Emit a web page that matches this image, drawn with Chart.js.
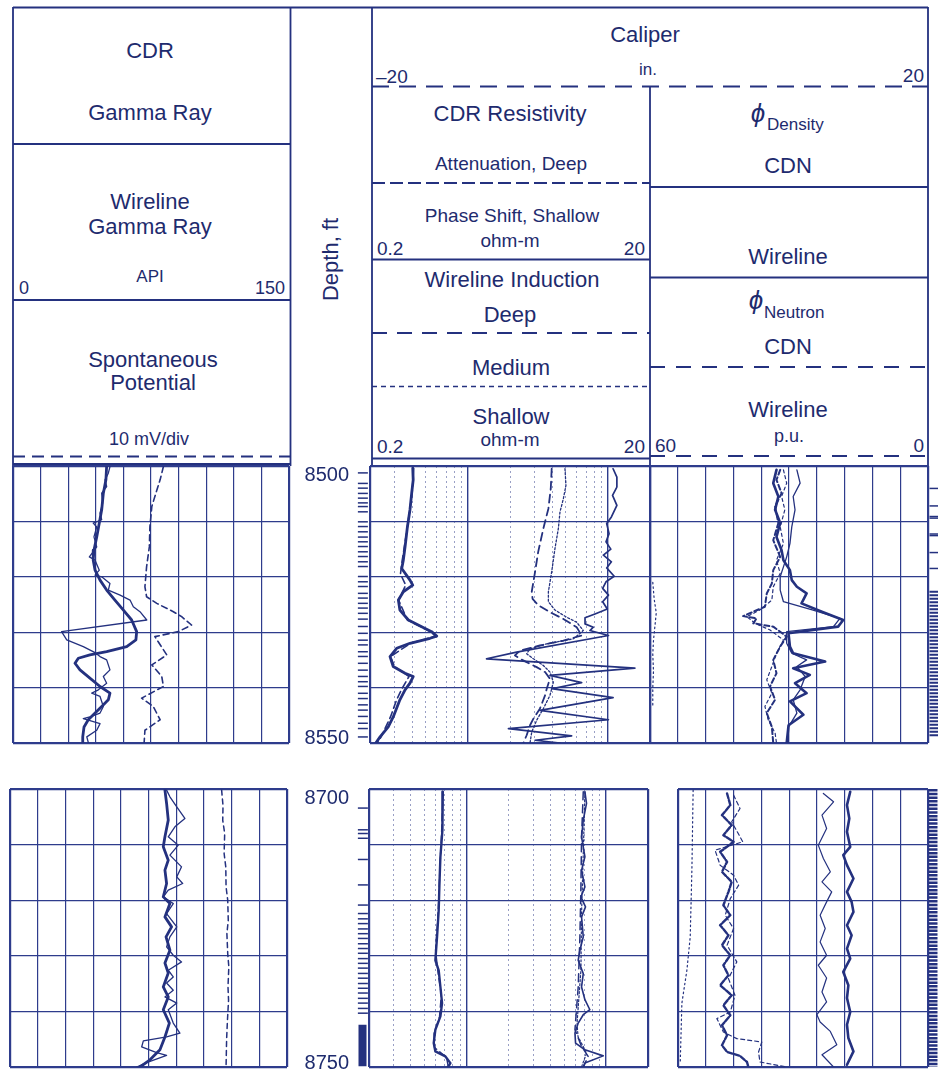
<!DOCTYPE html>
<html>
<head>
<meta charset="utf-8">
<script src="https://cdn.jsdelivr.net/npm/chart.js@4.4.1/dist/chart.umd.min.js"></script>
<style>
  html, body { margin: 0; padding: 0; background: #fff; }
  body { width: 938px; height: 1070px; position: relative; overflow: hidden; }
  #hdr { position: absolute; left: 0; top: 0; }
</style>
</head>
<body>
<svg id="hdr" width="938" height="470" xmlns="http://www.w3.org/2000/svg">
  <g stroke="#24317f" stroke-width="1.8" fill="none">
    <path d="M13 7.5H928"/>
    <path d="M13 7V466M290.5 7V466M372 7V466M928 7V466M650 86.5V466"/>
    <path d="M13 144H290.5M13 300H290.5M13 464H290.5"/>
    <path d="M13 456.5H290.5" stroke-dasharray="12 7"/>
    <path d="M372 86.5H928" stroke-dasharray="17 10"/>
    <path d="M372 183H650" stroke-dasharray="13 5"/>
    <path d="M372 259.5H650M372 458.5H650"/>
    <path d="M372 333H650" stroke-dasharray="15 10"/>
    <path d="M372 386.5H650" stroke-dasharray="5 4" stroke-width="1.3"/>
    <path d="M650 187H928M650 277.5H928"/>
    <path d="M650 367H928M650 456H928" stroke-dasharray="15 11"/>
  </g>
  <g fill="#1e2b6e" font-family="Liberation Sans, Arial, Helvetica, sans-serif" text-anchor="middle" dominant-baseline="central">
    <text x="150" y="50" font-size="22">CDR</text>
    <text x="150" y="112" font-size="22">Gamma Ray</text>
    <text x="150" y="201" font-size="22">Wireline</text>
    <text x="150" y="226" font-size="22">Gamma Ray</text>
    <text x="150" y="276" font-size="17">API</text>
    <text x="19" y="288" font-size="18" text-anchor="start">0</text>
    <text x="285" y="288" font-size="18" text-anchor="end">150</text>
    <text x="153" y="359" font-size="22">Spontaneous</text>
    <text x="153" y="382.5" font-size="22">Potential</text>
    <text x="149" y="439" font-size="18">10 mV/div</text>

    <text transform="translate(330,259.5) rotate(-90)" font-size="22">Depth, ft</text>

    <text x="645" y="34" font-size="22">Caliper</text>
    <text x="648" y="69" font-size="17">in.</text>
    <text x="376" y="76" font-size="19" text-anchor="start">–20</text>
    <text x="924" y="75" font-size="19" text-anchor="end">20</text>
    <text x="510" y="113" font-size="22">CDR Resistivity</text>
    <text x="511" y="163" font-size="19">Attenuation, Deep</text>
    <text x="512" y="215.5" font-size="19">Phase Shift, Shallow</text>
    <text x="510" y="240" font-size="19">ohm-m</text>
    <text x="377" y="248" font-size="19" text-anchor="start">0.2</text>
    <text x="645" y="248" font-size="19" text-anchor="end">20</text>
    <text x="512" y="279.5" font-size="22">Wireline Induction</text>
    <text x="510" y="314" font-size="22">Deep</text>
    <text x="511" y="367" font-size="22">Medium</text>
    <text x="511" y="416" font-size="22">Shallow</text>
    <text x="510" y="439" font-size="19">ohm-m</text>
    <text x="377" y="446" font-size="19" text-anchor="start">0.2</text>
    <text x="645" y="446" font-size="19" text-anchor="end">20</text>

    <text x="758" y="113" font-size="26" font-style="italic">ϕ</text>
    <text x="767" y="124" font-size="17" text-anchor="start">Density</text>
    <text x="788" y="165" font-size="22">CDN</text>
    <text x="788" y="256" font-size="22">Wireline</text>
    <text x="756" y="300" font-size="26" font-style="italic">ϕ</text>
    <text x="764" y="312" font-size="17" text-anchor="start">Neutron</text>
    <text x="788" y="346" font-size="22">CDN</text>
    <text x="788" y="409" font-size="22">Wireline</text>
    <text x="655" y="445" font-size="19" text-anchor="start">60</text>
    <text x="789" y="436" font-size="18">p.u.</text>
    <text x="924" y="445" font-size="19" text-anchor="end">0</text>
  </g>
</svg>
<script>
// ---- grid / tick values ----
const grTicks = [0, 15, 30, 45, 60, 75, 90, 105, 120, 135, 150];
const resTicks = [0.2, 0.3, 0.4, 0.5, 0.6, 0.7, 0.8, 0.9, 1, 2, 3, 4, 5, 6, 7, 8, 9, 10, 20];
const resMajor = [0.2, 1, 10, 20];
const puTicks = [0, 6, 12, 18, 24, 30, 36, 42, 48, 54, 60];
const puTicksLower = [0, 6, 12, 18, 24, 30, 36, 42, 48, 54];
const depthGridUpper = [8500, 8510, 8520, 8530, 8540, 8550];
const depthGridLower = [8700, 8710, 8720, 8730, 8740, 8750];
const depthLabelsUpper = [8500, 8550];
const depthLabelsLower = [8700, 8750];

// ---- depth track tick marks ----
const depthMarksUpper = [8499.6, 8501.6, 8502.5, 8503.5, 8504.4, 8505.3, 8506.0, 8507.0, 8508.9, 8509.8,
  8510.8, 8511.8, 8512.7, 8513.6, 8514.6, 8515.5, 8516.5, 8517.4, 8519.3, 8520.3, 8521.2, 8522.5,
  8523.4, 8524.4, 8525.3, 8526.3, 8527.4, 8528.8, 8530.1, 8531.4, 8532.3, 8533.6, 8534.5, 8535.8,
  8537.1, 8538.3, 8539.3, 8540.2, 8541.5, 8542.5, 8543.7, 8544.7, 8545.9, 8547.2, 8548.2, 8549.8];
const depthMarksLower = [8701.9, 8706.0, 8706.7, 8707.6, 8711.6, 8716.4, 8720.2, 8721.8, 8722.8, 8723.7,
  8724.7, 8725.6, 8726.5, 8727.5, 8728.4, 8729.3, 8730.3, 8731.2, 8732.1, 8733.1, 8734.0, 8735.0,
  8735.9, 8736.8, 8737.8, 8738.7, 8739.7, 8740.6];
const depthBlockLower = [8742.8, 8750.6];
const stripMarksUpper = [8503.1, 8506.4, 8508.4, 8508.7, 8511.7, 8512.0, 8515.2, 8518.2];
const stripBlockUpper = [8522.4, 8550];
const stripBlockLower = [8700, 8750];

// ---- track 1, 8500-8550 ----
const cdrGrUpperDepth = [8500.0, 8502.5, 8504.9, 8507.9, 8510.3, 8512.8, 8515.2, 8517.0, 8518.8, 8520.6, 8522.4,
  8524.2, 8526.0, 8527.8, 8529.9, 8531.4, 8532.6, 8533.5, 8534.1, 8534.7, 8535.6, 8536.8, 8538.3, 8539.8,
  8541.0, 8542.2, 8543.4, 8544.6, 8545.8, 8547.1, 8548.9, 8550.0];
const cdrGrUpperApi = [50.9, 50.5, 49.1, 48.2, 46.9, 45.5, 44.0, 43.6, 44.6, 47.3, 50.9, 55.4, 60.0, 64.5, 67.2,
  66.8, 61.8, 50.9, 41.8, 35.5, 33.7, 36.4, 41.8, 47.3, 52.7, 51.8, 48.2, 44.6, 40.9, 38.6, 37.9, 37.9];
const wlGrUpperDepth = [8500.1, 8501.3, 8502.5, 8503.7, 8504.9, 8506.7, 8508.5, 8509.7, 8510.3, 8511.0, 8512.8,
  8514.6, 8516.4, 8517.0, 8518.8, 8519.7, 8520.0, 8521.2, 8522.4, 8523.3, 8524.2, 8525.4, 8526.3, 8527.8,
  8529.9, 8531.4, 8532.6, 8533.7, 8534.4, 8535.0, 8536.8, 8538.0, 8539.2, 8540.4, 8541.0, 8541.6, 8543.4,
  8544.6, 8545.3, 8545.6, 8546.5, 8547.7, 8548.9, 8550.0];
const wlGrUpperApi = [52.7, 51.8, 50.0, 50.9, 48.2, 48.7, 47.3, 48.2, 43.6, 45.5, 44.0, 45.5, 41.5, 44.6, 46.9,
  44.6, 48.2, 52.7, 51.8, 58.2, 63.6, 65.4, 69.0, 72.7, 26.4, 29.2, 38.2, 44.6, 47.3, 50.9, 52.7, 49.1,
  50.9, 46.4, 42.8, 47.3, 49.1, 47.3, 41.8, 38.2, 47.3, 45.5, 40.1, 41.0];
const spUpperDepth = [8500.1, 8502.5, 8505.5, 8507.3, 8511.0, 8514.6, 8518.2, 8521.8, 8523.6, 8524.8, 8526.3,
  8527.2, 8528.7, 8529.9, 8530.8, 8534.1, 8535.9, 8538.0, 8539.8, 8541.9, 8543.4, 8545.8, 8547.7, 8550.0];
const spUpperMv = [54.5, 53.3, 51.4, 50.3, 49.6, 49.4, 48.4, 47.8, 48.4, 52.1, 58.1, 61.1, 64.7, 59.9, 51.4,
  55.7, 50.3, 53.9, 54.5, 46.6, 50.8, 53.3, 47.8, 47.5];

// ---- track 1, 8700-8750 ----
const cdrGrLowerDepth = [8700.2, 8702.6, 8705.6, 8708.6, 8710.4, 8712.8, 8714.6, 8717.0, 8719.4, 8720.6, 8723.0,
  8724.8, 8726.6, 8729.0, 8731.3, 8733.1, 8735.6, 8737.4, 8739.7, 8742.1, 8744.6, 8746.9, 8748.7, 8750.0];
const cdrGrLowerApi = [83.9, 84.8, 85.7, 83.9, 83.0, 85.7, 83.9, 84.8, 83.0, 86.6, 83.9, 87.5, 84.5, 86.6, 83.9,
  85.7, 83.0, 85.7, 83.0, 86.3, 83.9, 81.2, 75.8, 70.4];
const wlGrLowerDepth = [8700.2, 8701.4, 8703.2, 8705.3, 8706.8, 8708.6, 8710.1, 8711.9, 8714.0, 8715.8, 8717.0,
  8718.2, 8719.4, 8720.6, 8722.4, 8724.8, 8726.6, 8728.4, 8729.9, 8731.1, 8732.6, 8733.8, 8734.9, 8736.2,
  8737.4, 8738.5, 8739.7, 8742.1, 8743.9, 8744.6, 8745.3, 8746.4, 8747.4, 8747.9, 8749.2, 8750.0];
const wlGrLowerApi = [84.8, 86.6, 90.3, 94.7, 89.3, 85.7, 91.1, 86.6, 92.9, 90.3, 93.5, 85.7, 83.0, 88.4, 84.8,
  90.3, 86.6, 84.8, 88.4, 92.9, 85.7, 88.4, 84.8, 88.4, 83.9, 90.3, 85.7, 88.4, 92.0, 84.8, 72.2, 71.3,
  79.4, 84.8, 74.0, 68.6];
const spLowerDepth = [8700.2, 8703.0, 8705.6, 8708.0, 8711.6, 8714.0, 8717.6, 8720.0, 8723.6, 8726.0, 8729.6,
  8732.0, 8735.6, 8738.0, 8741.6, 8745.0, 8750.0];
const spLowerMv = [76.4, 76.9, 76.8, 77.5, 77.3, 77.9, 78.0, 78.6, 78.8, 78.3, 78.6, 79.0, 78.7, 78.9, 78.5,
  78.2, 78.0];

// ---- track 2 (ohm-m), 8500-8550 ----
const cdrPhaseUpperDepth = [8500.4, 8502.5, 8504.9, 8507.9, 8511.0, 8514.6, 8517.0, 8518.5, 8520.6, 8521.5,
  8522.7, 8524.2, 8526.0, 8527.8, 8529.0, 8529.9, 8530.7, 8531.1, 8532.0, 8532.9, 8534.4, 8536.2, 8537.4,
  8538.0, 8539.2, 8540.4, 8542.2, 8545.3, 8547.1, 8548.9, 8550.0];
const cdrPhaseUpperOhm = [0.404, 0.407, 0.397, 0.386, 0.370, 0.356, 0.346, 0.337, 0.386, 0.404, 0.346, 0.319,
  0.327, 0.376, 0.468, 0.551, 0.599, 0.537, 0.386, 0.310, 0.278, 0.293, 0.356, 0.407, 0.386, 0.356, 0.327,
  0.293, 0.270, 0.236, 0.220];
const cdrAttenUpperDepth = [8500.4, 8504.9, 8511.0, 8517.0, 8519.5, 8521.5, 8524.2, 8527.8, 8529.9, 8530.7,
  8532.0, 8534.4, 8536.2, 8538.0, 8540.4, 8542.2, 8545.3, 8548.9, 8550.0];
const cdrAttenUpperOhm = [0.41, 0.40, 0.37, 0.34, 0.33, 0.36, 0.32, 0.37, 0.54, 0.59, 0.39, 0.28, 0.30, 0.38,
  0.335, 0.31, 0.28, 0.24, 0.225];
const wlDeepUpperDepth = [8500.5, 8504.1, 8507.7, 8511.3, 8515.5, 8519.1, 8522.7, 8524.0, 8525.1, 8526.4,
  8527.6, 8529.1, 8530.6, 8531.5, 8532.4, 8533.3, 8534.2, 8534.8, 8535.4, 8536.3, 8537.2, 8538.4, 8540.2,
  8541.4, 8543.8, 8545.6, 8546.8, 8548.6, 8550.0];
const wlDeepUpperOhm = [3.97, 3.91, 3.76, 3.46, 3.18, 3.02, 2.86, 2.90, 3.18, 3.86, 4.81, 5.99, 6.50, 4.81,
  3.27, 2.36, 2.17, 2.36, 2.63, 3.10, 3.56, 3.86, 3.66, 3.56, 3.27, 2.94, 2.78, 2.63, 2.49];
const wlMedUpperDepth = [8500.5, 8503.5, 8505.9, 8508.3, 8511.3, 8514.9, 8519.1, 8522.7, 8524.5, 8526.0,
  8527.3, 8528.2, 8529.7, 8531.2, 8532.1, 8533.0, 8533.9, 8534.8, 8536.0, 8537.2, 8539.0, 8541.4, 8543.8,
  8545.9, 8548.0, 8550.0];
const wlMedUpperOhm = [4.94, 5.02, 4.81, 4.55, 4.43, 4.19, 3.97, 3.76, 3.76, 4.19, 5.08, 5.99, 6.68, 5.66,
  3.66, 2.78, 2.63, 2.94, 3.46, 3.86, 4.08, 3.86, 3.46, 3.10, 2.86, 2.78];
const wlShallowUpperDepth = [8500.5, 8502.0, 8503.8, 8505.3, 8507.1, 8509.2, 8510.4, 8512.2, 8513.7, 8515.0,
  8516.1, 8517.3, 8518.4, 8519.9, 8520.9, 8522.1, 8523.3, 8524.5, 8525.8, 8526.7, 8527.4, 8528.5, 8529.1,
  8529.7, 8530.6, 8533.6, 8534.8, 8536.5, 8537.8, 8539.1, 8540.2, 8541.8, 8544.1, 8545.8, 8547.4, 8548.7,
  8549.5, 8550.0];
const wlShallowUpperOhm = [10.9, 11.6, 11.6, 10.8, 11.6, 10.6, 9.81, 10.2, 9.70, 10.5, 9.29, 10.6, 9.81, 11.1,
  9.70, 9.18, 10.1, 9.18, 9.91, 8.09, 6.87, 6.87, 7.87, 7.45, 10.1, 2.23, 1.36, 15.6, 3.86, 6.50, 3.97,
  10.9, 3.27, 10.1, 1.95, 5.51, 3.02, 4.55];

// ---- track 2 (ohm-m), 8700-8750 ----
const cdrPhaseLowerDepth = [8700.5, 8703.8, 8707.4, 8712.2, 8717.0, 8721.8, 8726.6, 8730.8, 8732.6, 8735.6,
  8738.5, 8740.9, 8743.3, 8745.7, 8747.2, 8748.1, 8749.3, 8750.0];
const cdrPhaseLowerOhm = [0.676, 0.676, 0.668, 0.650, 0.640, 0.632, 0.615, 0.598, 0.632, 0.650, 0.668, 0.650,
  0.598, 0.582, 0.598, 0.706, 0.767, 0.737];
const cdrAttenLowerDepth = [8700.5, 8704.5, 8709.0, 8714.0, 8719.0, 8724.0, 8729.0, 8733.0, 8737.0, 8741.0,
  8744.0, 8746.5, 8748.3, 8750.0];
const cdrAttenLowerOhm = [0.68, 0.67, 0.66, 0.645, 0.635, 0.62, 0.60, 0.625, 0.66, 0.64, 0.585, 0.59, 0.72,
  0.74];
const wlShallowLowerDepth = [8700.5, 8702.6, 8705.6, 8708.6, 8710.4, 8712.2, 8714.6, 8717.6, 8719.4, 8721.2,
  8723.0, 8726.6, 8729.0, 8730.8, 8733.2, 8735.6, 8737.9, 8739.7, 8740.6, 8742.1, 8743.9, 8745.7, 8746.9,
  8748.0, 8749.3, 8750.0];
const wlShallowLowerOhm = [7.06, 7.25, 6.87, 6.68, 6.87, 7.06, 6.68, 7.06, 6.61, 7.13, 6.68, 6.87, 6.50, 6.32,
  6.87, 6.68, 7.06, 7.66, 6.87, 6.32, 5.99, 6.05, 7.06, 9.55, 7.06, 6.87];
const wlDeepLowerDepth = [8700.5, 8708.6, 8717.6, 8726.6, 8735.6, 8743.3, 8746.3, 8748.1, 8750.0];
const wlDeepLowerOhm = [6.87, 6.68, 6.61, 6.50, 6.32, 5.99, 6.68, 7.45, 6.87];
const wlMedLowerDepth = [8700.5, 8711.6, 8722.4, 8732.6, 8742.1, 8744.5, 8747.5, 8750.0];
const wlMedLowerOhm = [7.06, 6.87, 6.68, 6.61, 6.2, 6.3, 7.25, 6.68];

// ---- track 3 (p.u., caliper in.), 8500-8550 ----
const cdnDensUpperDepth = [8500.7, 8503.1, 8505.5, 8507.9, 8510.3, 8512.8, 8515.2, 8517.0, 8518.8, 8520.6,
  8521.8, 8523.0, 8524.8, 8526.3, 8527.8, 8529.0, 8530.2, 8532.6, 8533.8, 8535.3, 8536.5, 8537.7, 8539.2,
  8541.0, 8542.5, 8544.9, 8546.8, 8550.0];
const cdnDensUpperPu = [32.7, 33.4, 32.3, 33.0, 31.9, 32.7, 31.6, 31.2, 29.8, 29.4, 28.3, 26.2, 27.3, 22.9, 18.3,
  19.4, 30.1, 29.8, 29.1, 22.2, 29.1, 25.5, 28.7, 26.2, 29.8, 26.9, 30.1, 30.5];
const wlDensUpperDepth = [8500.7, 8503.1, 8505.5, 8507.9, 8511.0, 8514.0, 8516.4, 8518.2, 8520.0, 8522.4,
  8524.5, 8526.0, 8527.5, 8529.0, 8529.9, 8532.0, 8533.8, 8535.0, 8536.2, 8538.0, 8540.4, 8542.2, 8544.6,
  8547.1, 8550.0];
const wlDensUpperPu = [28.3, 27.6, 29.1, 28.7, 29.4, 29.8, 30.5, 31.2, 31.9, 31.9, 31.2, 24.8, 19.0, 20.4, 30.5,
  30.5, 29.4, 26.2, 28.3, 26.5, 27.6, 29.1, 28.3, 30.1, 30.1];
const cdnNeuUpperDepth = [8500.7, 8502.5, 8504.9, 8507.3, 8510.3, 8513.4, 8516.4, 8518.8, 8521.2, 8523.0,
  8525.4, 8527.1, 8527.5, 8528.4, 8529.0, 8530.8, 8532.6, 8535.0, 8537.4, 8539.8, 8542.2, 8544.6, 8547.1,
  8550.0];
const cdnNeuUpperPu = [31.9, 32.7, 31.6, 33.0, 32.3, 33.4, 31.9, 33.4, 33.7, 34.8, 35.2, 39.9, 37.0, 37.7, 33.4,
  30.5, 31.9, 33.4, 32.7, 34.1, 33.0, 34.8, 33.7, 33.4];
const wlNeuUpperDepth = [8500.7, 8503.1, 8505.5, 8507.9, 8511.0, 8514.0, 8517.0, 8519.4, 8521.8, 8524.2,
  8526.0, 8527.2, 8528.4, 8529.6, 8531.4, 8533.8, 8536.2, 8538.6, 8541.0, 8543.4, 8545.8, 8548.2, 8550.0];
const wlNeuUpperPu = [31.2, 30.5, 31.6, 30.9, 31.9, 31.2, 32.7, 31.9, 33.4, 33.7, 36.3, 39.1, 37.3, 34.1, 31.2,
  32.7, 33.7, 34.8, 33.7, 35.2, 34.5, 33.0, 32.7];
const caliperUpperDepth = [8521.0, 8524.0, 8526.5, 8529.0, 8531.5, 8534.0, 8537.0, 8540.0, 8543.5];
const caliperUpperIn = [0.2, 0.3, 0.45, 0.35, 0.25, 0.2, 0.25, 0.2, 0.2];

// ---- track 3 (p.u., caliper in.), 8700-8750 ----
const cdnDensLowerDepth = [8700.5, 8702.9, 8705.3, 8707.7, 8710.4, 8711.9, 8713.7, 8716.1, 8718.5, 8720.3,
  8722.1, 8724.5, 8726.3, 8728.7, 8730.5, 8732.9, 8735.3, 8737.6, 8740.1, 8742.4, 8744.8, 8747.2, 8749.6];
const cdnDensLowerPu = [16.8, 17.5, 17.0, 17.5, 16.8, 18.3, 17.5, 16.1, 17.5, 16.5, 16.1, 17.5, 16.5, 17.5, 16.8,
  18.3, 17.2, 17.5, 16.8, 17.5, 17.2, 16.1, 17.5];
const wlDensLowerDepth = [8700.8, 8702.3, 8704.7, 8707.1, 8710.1, 8712.5, 8714.9, 8716.7, 8718.5, 8720.3,
  8722.7, 8725.1, 8727.5, 8729.9, 8731.7, 8734.0, 8736.5, 8738.3, 8740.6, 8741.9, 8743.6, 8746.0, 8747.8,
  8750.0];
const wlDensLowerPu = [22.6, 20.4, 22.9, 21.9, 23.7, 22.6, 21.1, 22.9, 20.8, 21.9, 23.3, 22.2, 23.3, 21.9, 23.7,
  21.9, 22.9, 21.9, 24.0, 23.3, 21.1, 19.7, 22.9, 20.4];
const cdnNeuLowerDepth = [8700.8, 8702.9, 8704.7, 8706.5, 8708.3, 8709.5, 8711.3, 8713.1, 8714.9, 8716.7,
  8718.5, 8720.9, 8722.7, 8724.5, 8726.3, 8728.1, 8729.9, 8731.7, 8733.5, 8735.3, 8737.1, 8738.9, 8740.7,
  8742.5, 8744.3, 8746.1, 8747.3, 8748.0, 8749.1, 8750.0];
const cdnNeuLowerPu = [43.4, 42.7, 44.5, 42.4, 44.2, 42.0, 44.9, 43.4, 44.5, 42.4, 43.1, 44.2, 42.7, 44.9, 43.1,
  44.5, 42.7, 44.2, 43.1, 44.9, 42.4, 44.2, 42.7, 44.5, 43.4, 44.5, 43.4, 40.6, 39.1, 38.8];
const wlNeuLowerDepth = [8701.1, 8703.5, 8705.9, 8709.5, 8711.0, 8713.7, 8715.5, 8717.3, 8719.7, 8722.7,
  8725.1, 8728.1, 8731.1, 8734.1, 8737.1, 8740.1, 8741.3, 8743.7, 8744.9, 8745.5, 8747.3, 8749.1, 8750.0];
const wlNeuLowerPu = [42.0, 40.6, 42.4, 40.0, 46.0, 44.9, 42.0, 40.9, 42.7, 43.8, 42.0, 43.4, 41.3, 43.1, 41.7,
  42.7, 45.6, 44.2, 41.3, 35.9, 36.6, 36.3, 30.5];
const caliperLowerDepth = [8700.2, 8714.6, 8726.6, 8732.6, 8738.5, 8749.3];
const caliperLowerIn = [3.09, 3.0, 2.88, 2.64, 2.28, 2.16];

// ---- styling ----
const INK = '#24317f';
const GRID = '#2e3c8c';
const MINOR = 'rgba(70,80,150,0.55)';
const TEXT = '#1e2b6e';
const FONT = '"Liberation Sans", Arial, Helvetica, sans-serif';
const PAD = 3;

function gridScale(type, min, max, reverse, tickVals) {
  return {
    type: type, min: min, max: max, reverse: reverse,
    ticks: { display: false },
    grid: {
      drawTicks: false, color: GRID,
      lineWidth: ctx => (ctx.tick && (ctx.tick.value === min || ctx.tick.value === max)) ? 2.2 : 1.2
    },
    border: { display: false },
    afterBuildTicks: s => { s.ticks = tickVals.map(v => ({ value: v })); }
  };
}

function resScale() {
  const isMajor = ctx => ctx.tick && resMajor.includes(ctx.tick.value);
  return {
    type: 'logarithmic', min: 0.2, max: 20,
    ticks: { display: false },
    grid: {
      drawTicks: false,
      color: ctx => isMajor(ctx) ? GRID : MINOR,
      lineWidth: ctx => {
        if (!ctx.tick) return 1;
        const v = ctx.tick.value;
        return (v === 0.2 || v === 20) ? 2.2 : (isMajor(ctx) ? 1.4 : 1);
      }
    },
    border: { display: false, dash: ctx => isMajor(ctx) ? [] : [2, 3] },
    afterBuildTicks: s => { s.ticks = resTicks.map(v => ({ value: v })); }
  };
}

function curve(depths, vals, w, dash, axis) {
  return {
    data: depths.map((d, i) => ({ x: vals[i], y: d })),
    xAxisID: axis || 'x',
    borderColor: INK, borderWidth: w, borderDash: dash || [],
    pointRadius: 0, tension: 0, fill: false,
    borderJoinStyle: 'round', borderCapStyle: 'round'
  };
}

function marks(depths, xPos, r) {
  return {
    type: 'scatter',
    data: depths.map(d => ({ x: xPos, y: d })),
    showLine: false, pointStyle: 'line', pointRadius: r, clip: false,
    pointBorderColor: INK, pointBorderWidth: 1.5, borderColor: INK
  };
}

function block(range, xPos, w, dash) {
  return {
    data: range.map(d => ({ x: xPos, y: d })),
    borderColor: INK, borderWidth: w, borderDash: dash || [],
    pointRadius: 0, clip: false
  };
}

function options(scales, pad) {
  return {
    responsive: false, animation: false, devicePixelRatio: 1, events: [],
    layout: { padding: pad },
    plugins: { legend: { display: false }, tooltip: { enabled: false } },
    scales: scales
  };
}

function mount(left, top, w, h, pad, datasets, scales) {
  const p = typeof pad === 'number' ? { top: pad, right: pad, bottom: pad, left: pad } : pad;
  const c = document.createElement('canvas');
  c.width = w + p.left + p.right;
  c.height = h + p.top + p.bottom;
  c.style.cssText = 'position:absolute;left:' + (left - p.left) + 'px;top:' + (top - p.top) + 'px;';
  document.body.appendChild(c);
  return new Chart(c, { type: 'line', data: { datasets: datasets }, options: options(scales, p) });
}

function depthAxis(min, max, labels) {
  return {
    type: 'linear', min: min, max: max, reverse: true,
    grid: { display: false }, border: { display: false },
    ticks: { color: TEXT, font: { family: FONT, size: 20 }, padding: 1, callback: v => String(v) },
    afterBuildTicks: s => { s.ticks = labels.map(v => ({ value: v })); },
    afterFit: s => { s.width = 60; s.paddingTop = 0; s.paddingBottom = 0; }
  };
}

// ===== upper interval 8500-8550 =====
mount(13, 466, 276, 277, PAD, [
  curve(wlGrUpperDepth, wlGrUpperApi, 1.3),
  curve(cdrGrUpperDepth, cdrGrUpperApi, 2.8),
  curve(spUpperDepth, spUpperMv, 1.6, [6, 4], 'xsp')
], {
  x: gridScale('linear', 0, 150, false, grTicks),
  xsp: { type: 'linear', min: 0, max: 100, display: false },
  y: gridScale('linear', 8500, 8550, true, depthGridUpper)
});

mount(298, 475, 74, 263, { top: 14, bottom: 14, left: 0, right: 0 }, [
  marks(depthMarksUpper, 0.65, 5)
], {
  x: { type: 'linear', min: 0, max: 1, display: false },
  y: depthAxis(8500, 8550, depthLabelsUpper)
});

mount(370, 466, 280, 277, PAD, [
  curve(cdrAttenUpperDepth, cdrAttenUpperOhm, 1.6, [7, 4]),
  curve(cdrPhaseUpperDepth, cdrPhaseUpperOhm, 2.8),
  curve(wlDeepUpperDepth, wlDeepUpperOhm, 1.8, [8, 5]),
  curve(wlMedUpperDepth, wlMedUpperOhm, 1.3, [2, 2]),
  curve(wlShallowUpperDepth, wlShallowUpperOhm, 1.7)
], {
  x: resScale(),
  y: gridScale('linear', 8500, 8550, true, depthGridUpper)
});

mount(650, 466, 278, 277, PAD, [
  curve(wlNeuUpperDepth, wlNeuUpperPu, 1.2, [3, 3]),
  curve(cdnNeuUpperDepth, cdnNeuUpperPu, 2.0, [5, 3]),
  curve(wlDensUpperDepth, wlDensUpperPu, 1.3),
  curve(cdnDensUpperDepth, cdnDensUpperPu, 2.6),
  curve(caliperUpperDepth, caliperUpperIn, 1.2, [1.5, 3], 'xcal')
], {
  x: gridScale('linear', 0, 60, true, puTicks),
  xcal: { type: 'linear', min: 0, max: 20, display: false },
  y: gridScale('linear', 8500, 8550, true, depthGridUpper)
});

mount(928, 466, 10, 277, 0, [
  marks(stripMarksUpper, 0.5, 4.5),
  block(stripBlockUpper, 0.5, 9, [2, 1.5])
], {
  x: { type: 'linear', min: 0, max: 1, display: false },
  y: { type: 'linear', min: 8500, max: 8550, reverse: true, display: false }
});

// ===== lower interval 8700-8750 =====
mount(10, 789, 277, 278, PAD, [
  curve(wlGrLowerDepth, wlGrLowerApi, 1.3),
  curve(cdrGrLowerDepth, cdrGrLowerApi, 2.8),
  curve(spLowerDepth, spLowerMv, 1.5, [5, 4], 'xsp')
], {
  x: gridScale('linear', 0, 150, false, grTicks),
  xsp: { type: 'linear', min: 0, max: 100, display: false },
  y: gridScale('linear', 8700, 8750, true, depthGridLower)
});

mount(298, 798, 74, 265, { top: 14, bottom: 14, left: 0, right: 0 }, [
  marks(depthMarksLower, 0.65, 5),
  block(depthBlockLower, 0.6, 8)
], {
  x: { type: 'linear', min: 0, max: 1, display: false },
  y: depthAxis(8700, 8750, depthLabelsLower)
});

mount(369, 789, 279, 278, PAD, [
  curve(cdrAttenLowerDepth, cdrAttenLowerOhm, 1.4, [7, 4]),
  curve(cdrPhaseLowerDepth, cdrPhaseLowerOhm, 2.4),
  curve(wlDeepLowerDepth, wlDeepLowerOhm, 1.5, [8, 5]),
  curve(wlMedLowerDepth, wlMedLowerOhm, 1.2, [2, 2]),
  curve(wlShallowLowerDepth, wlShallowLowerOhm, 1.6)
], {
  x: resScale(),
  y: gridScale('linear', 8700, 8750, true, depthGridLower)
});

mount(678, 789, 250, 278, PAD, [
  curve(wlNeuLowerDepth, wlNeuLowerPu, 1.2, [4, 3]),
  curve(cdnNeuLowerDepth, cdnNeuLowerPu, 2.4, [5, 2]),
  curve(wlDensLowerDepth, wlDensLowerPu, 1.2),
  curve(cdnDensLowerDepth, cdnDensLowerPu, 2.6),
  curve(caliperLowerDepth, caliperLowerIn, 1.2, [1.5, 3], 'xcal')
], {
  x: gridScale('linear', 0, 54, true, puTicksLower),
  xcal: { type: 'linear', min: 2, max: 20, display: false },
  y: gridScale('linear', 8700, 8750, true, depthGridLower)
});

mount(928, 789, 10, 278, 0, [
  block(stripBlockLower, 0.5, 9, [2.5, 1.2])
], {
  x: { type: 'linear', min: 0, max: 1, display: false },
  y: { type: 'linear', min: 8700, max: 8750, reverse: true, display: false }
});
</script>
</body>
</html>
